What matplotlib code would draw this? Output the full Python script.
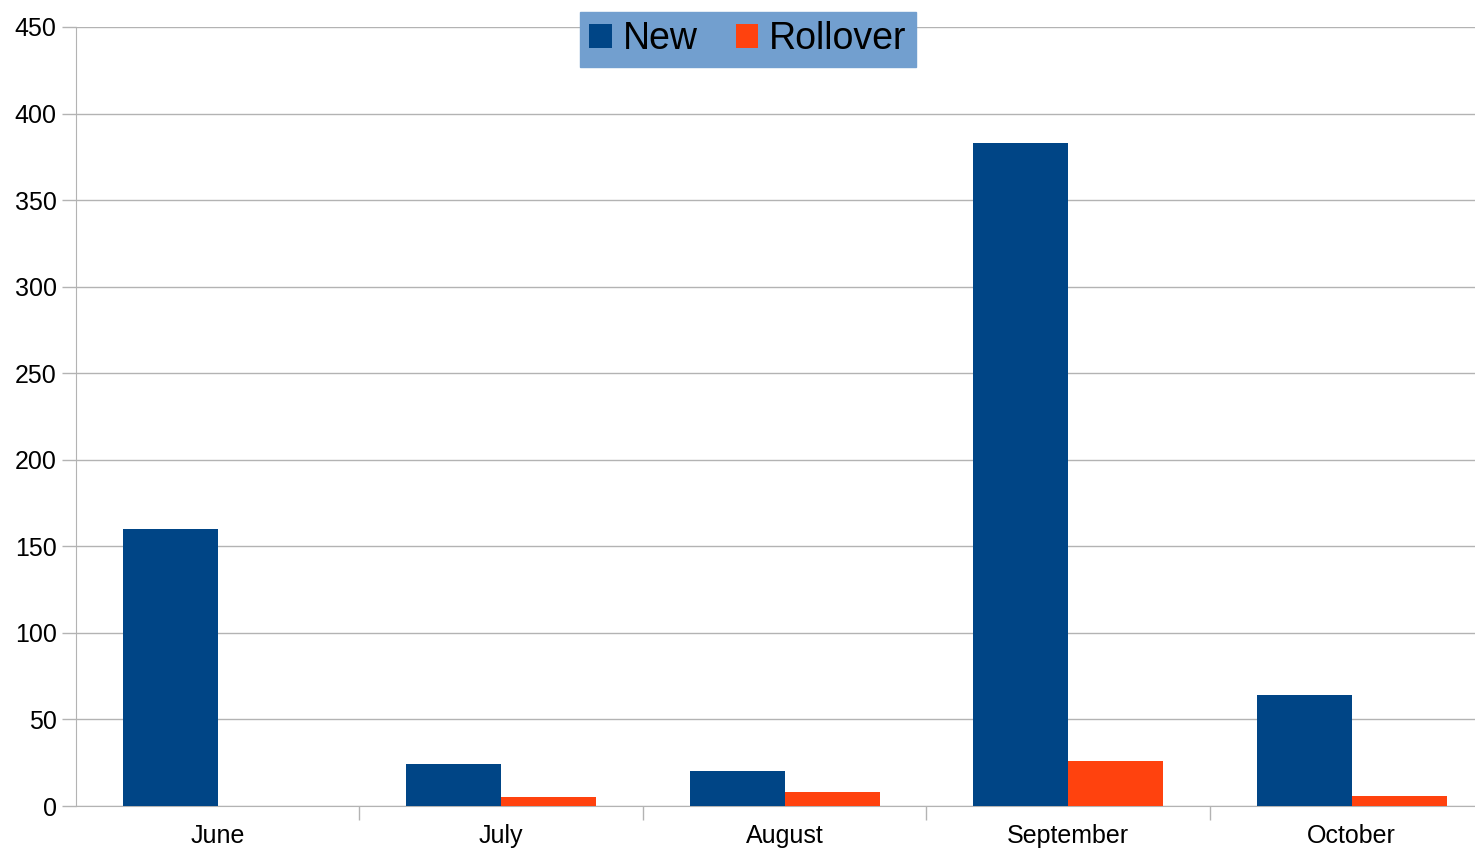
import matplotlib.pyplot as plt
import numpy as np

months = ["June", "July", "August", "September", "October"]
new_vals = [160, 24, 20, 383, 64]
rollover_vals = [0, 5, 8, 26, 6]

plt.rcParams['font.family'] = ['Liberation Sans', 'DejaVu Sans']
plt.rcParams['xtick.labelsize'] = 18
plt.rcParams['ytick.labelsize'] = 18

fig = plt.figure(figsize=(14.75, 8.49), dpi=100)
# axes right edge runs a bit past the image, like the original
ax = fig.add_axes([76 / 1475, 1 - 806 / 849, 1417.5 / 1475, 779 / 849])

x = np.arange(len(months))
w = 0.335
ax.bar(x - w / 2, new_vals, w, color="#004586", label="New", zorder=3)
ax.bar(x + w / 2, rollover_vals, w, color="#ff420e", label="Rollover", zorder=3)

ax.set_xlim(-0.5, len(months) - 0.5)
ax.set_ylim(0, 450)
ax.set_yticks(range(0, 451, 50))
ax.yaxis.grid(True, color="#b3b3b3", linewidth=1, zorder=0)

ax.set_xticks(x)
ax.set_xticklabels(months, fontsize=18)
ax.set_xticks(np.arange(0.5, len(months) - 1, 1), minor=True)
ax.tick_params(axis="x", which="major", length=0, pad=13)
ax.tick_params(axis="x", which="minor", length=10, color="#b3b3b3", width=1)
ax.tick_params(axis="y", length=10, color="#b3b3b3", width=1, pad=4)

for s in ["top", "right"]:
    ax.spines[s].set_visible(False)
ax.spines["left"].set_color("#b3b3b3")
ax.spines["bottom"].set_color("#b3b3b3")

leg = ax.legend(loc="upper center", bbox_to_anchor=(748 / 1475, 1 - 12 / 849),
                bbox_transform=fig.transFigure, ncol=2, fontsize=27,
                frameon=True, fancybox=False, handlelength=0.6, handleheight=0.6,
                handletextpad=0.3, columnspacing=1.0, borderpad=0.25,
                borderaxespad=0)
leg.get_frame().set_facecolor("#729fcf")
leg.get_frame().set_edgecolor("#729fcf")
leg.get_frame().set_alpha(1)

fig.savefig("out.png", dpi=100)
